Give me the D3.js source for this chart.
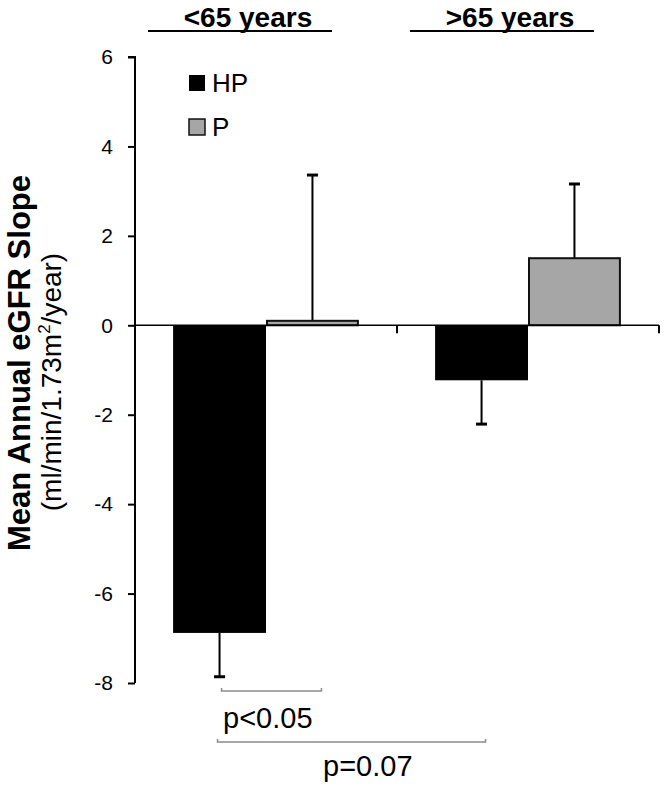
<!DOCTYPE html>
<html><head><meta charset="utf-8">
<script src="https://cdn.jsdelivr.net/npm/d3@7"></script>
<style>body{margin:0;background:#fff}</style>
</head><body>
<script>
const categories = ["<65 years", ">65 years"];
const seriesNames = ["HP", "P"];
const hpValues = [-6.88, -1.23];
const pValues = [0.1, 1.5];
const hpErrors = [0.98, 0.98];
const pErrors = [3.26, 1.66];
const yTicks = [-8, -6, -4, -2, 0, 2, 4, 6];
const colors = {HP: "#000000", P: "#a6a6a6"};

const W = 666, H = 787;
const svg = d3.select("body").append("svg").attr("width", W).attr("height", H)
  .style("font-family", "'Liberation Sans', Arial, sans-serif");

const y = d3.scaleLinear().domain([-8, 6]).range([683, 57]);
const x = d3.scaleBand().domain(categories).range([135, 659]).padding(0);
const xs = d3.scaleBand().domain(seriesNames).range([0, x.bandwidth()]).paddingInner(0).paddingOuter(0.41);

const data = [];
categories.forEach((c, i) => {
  data.push({cat: c, s: "HP", v: hpValues[i], e: hpErrors[i]});
  data.push({cat: c, s: "P", v: pValues[i], e: pErrors[i]});
});

// y axis
const yAxis = d3.axisLeft(y).tickValues(yTicks).tickSize(7).tickPadding(15).tickFormat(d3.format("d"));
const ga = svg.append("g").attr("transform", "translate(135,0)").call(yAxis);
ga.select(".domain").attr("stroke", "#000").attr("stroke-width", 2).attr("d", `M-7,${y(6)}H0V${y(-8)}`);
ga.selectAll(".tick line").attr("stroke", "#000").attr("stroke-width", 2);
ga.selectAll(".tick text").attr("font-size", 21).attr("fill", "#000")
  .style("font-family", "'Liberation Sans', Arial, sans-serif").text(d => d < 0 ? "-" + Math.abs(d) : d);

const cx = d => x(d.cat) + xs(d.s) + xs.bandwidth() / 2;

// error bars
const eb = svg.append("g");
data.forEach(d => {
  const end = d.v >= 0 ? d.v + d.e : d.v - d.e;
  eb.append("line").attr("x1", cx(d)).attr("x2", cx(d)).attr("y1", y(d.v)).attr("y2", y(end))
    .attr("stroke", "#000").attr("stroke-width", 2);
  eb.append("line").attr("x1", cx(d) - 5.5).attr("x2", cx(d) + 5.5).attr("y1", y(end)).attr("y2", y(end))
    .attr("stroke", "#000").attr("stroke-width", 3);
});

// bars
svg.append("g").selectAll("rect").data(data).join("rect")
  .attr("x", d => x(d.cat) + xs(d.s) + (d.s === "P" ? 1 : 0))
  .attr("width", d => xs.bandwidth() - (d.s === "P" ? 2 : 0))
  .attr("y", d => y(Math.max(0, d.v)))
  .attr("height", d => Math.abs(y(d.v) - y(0)))
  .attr("fill", d => colors[d.s])
  .attr("stroke", d => d.s === "P" ? "#111" : "none")
  .attr("stroke-width", 2);

// zero / category axis
const xAxisG = svg.append("g").attr("transform", `translate(0,${y(0)})`);
xAxisG.append("line").attr("x1", 135).attr("x2", 659).attr("y1", 0).attr("y2", 0)
  .attr("stroke", "#000").attr("stroke-width", 1.5);
categories.forEach(c => {
  const xx = x(c) + x.bandwidth();
  xAxisG.append("line").attr("x1", xx).attr("x2", xx).attr("y1", 0).attr("y2", 8)
    .attr("stroke", "#000").attr("stroke-width", 2);
});

// top category labels
categories.forEach(c => {
  const mid = x(c) + x.bandwidth() / 2 - 26;
  svg.append("text").attr("x", mid + 8).attr("y", 27).attr("text-anchor", "middle")
    .attr("font-size", 28).attr("font-weight", "bold").text(c);
  svg.append("line").attr("x1", mid - 92).attr("x2", mid + 92).attr("y1", 31).attr("y2", 31)
    .attr("stroke", "#000").attr("stroke-width", 2);
});

// legend
seriesNames.forEach((s, i) => {
  const ly = 75 + i * 44;
  svg.append("rect").attr("x", 189).attr("y", ly).attr("width", 16).attr("height", 16)
    .attr("fill", colors[s]).attr("stroke", "#111").attr("stroke-width", s === "P" ? 1.5 : 0);
  svg.append("text").attr("x", 212).attr("y", ly + 17).attr("font-size", 26).text(s);
});

// y title
svg.append("text").attr("transform", "translate(30,363) rotate(-90)").attr("text-anchor", "middle")
  .attr("font-size", 31).attr("font-weight", "bold").text("Mean Annual eGFR Slope");
const t2 = svg.append("text").attr("transform", "translate(61,382) rotate(-90)").attr("text-anchor", "middle")
  .attr("font-size", 28);
t2.append("tspan").text("(ml/min/1.73m");
t2.append("tspan").attr("font-size", 17).attr("dy", -11).text("2");
t2.append("tspan").attr("dy", 11).text("/year)");

// significance brackets
const hp0 = cx(data[0]), p0 = cx(data[1]), hp1 = cx(data[2]);
function bracket(x1, x2, yy) {
  svg.append("path").attr("d", `M${x1},${yy - 3}V${yy}H${x2}V${yy - 3}`)
    .attr("fill", "none").attr("stroke", "#8c8c8c").attr("stroke-width", 1.5);
}
bracket(hp0 + 2, p0 + 9, 691);
svg.append("text").attr("x", 223).attr("y", 728).attr("font-size", 29).text("p<0.05");
bracket(hp0 - 2, hp1 + 4, 742);
svg.append("text").attr("x", 323).attr("y", 776).attr("font-size", 29).text("p=0.07");
</script>
</body></html>
